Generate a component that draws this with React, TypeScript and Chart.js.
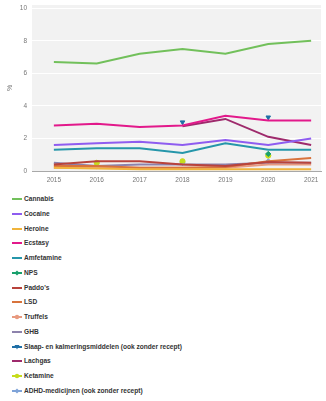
import React, { useEffect, useRef } from "react";
import { Chart, registerables } from "chart.js";
Chart.register(...registerables);

const years = [2015, 2016, 2017, 2018, 2019, 2020, 2021];
const yTicks = [0, 2, 4, 6, 8, 10];

const cannabis = [6.7, 6.6, 7.2, 7.5, 7.2, 7.8, 8.0];
const cocaine = [1.6, 1.7, 1.8, 1.6, 1.9, 1.6, 2.0];
const heroine = [0.2, 0.15, 0.1, 0.1, 0.1, 0.1, 0.1];
const ecstasy = [2.8, 2.9, 2.7, 2.8, 3.4, 3.1, 3.1];
const amfetamine = [1.3, 1.4, 1.4, 1.1, 1.7, 1.3, 1.3];
const nps = [null, null, null, null, null, 1.05, null];
const paddos = [0.4, 0.6, 0.6, 0.4, 0.3, 0.55, 0.5];
const lsd = [0.3, 0.3, 0.2, 0.2, 0.25, 0.6, 0.8];
const truffels = [0.2, 0.2, 0.2, 0.2, 0.2, 0.4, 0.4];
const ghb = [0.5, 0.3, 0.4, 0.4, 0.4, 0.5, 0.5];
const slaap = [null, null, null, 3.0, null, 3.3, null];
const lachgas = [null, null, null, 2.75, 3.2, 2.1, 1.6];
const ketamine = [null, 0.5, null, 0.6, null, 0.95, null];
const adhd = [null, 0.3, null, 0.5, null, 0.6, null];

type S = { label: string; values: (number | null)[]; color: string; marker?: string };

const series: S[] = [
  { label: "Cannabis", values: cannabis, color: "#72c05b" },
  { label: "Cocaine", values: cocaine, color: "#8e5cf0" },
  { label: "Heroine", values: heroine, color: "#f0b43c" },
  { label: "Ecstasy", values: ecstasy, color: "#e2198b" },
  { label: "Amfetamine", values: amfetamine, color: "#2596aa" },
  { label: "NPS", values: nps, color: "#18a06c", marker: "rectRot" },
  { label: "Paddo's", values: paddos, color: "#b8433c" },
  { label: "LSD", values: lsd, color: "#d8733c" },
  { label: "Truffels", values: truffels, color: "#e89a80", marker: "circle" },
  { label: "GHB", values: ghb, color: "#8d82ac" },
  { label: "Slaap- en kalmeringsmiddelen (ook zonder recept)", values: slaap, color: "#1f6fa6", marker: "triangle" },
  { label: "Lachgas", values: lachgas, color: "#9e2a6c" },
  { label: "Ketamine", values: ketamine, color: "#c6dc1c", marker: "circle" },
  { label: "ADHD-medicijnen (ook zonder recept)", values: adhd, color: "#7fa3d8", marker: "rectRot" },
];

const bgPlugin = {
  id: "plotBg",
  beforeDraw(chart: any) {
    const { ctx, chartArea } = chart;
    ctx.save();
    ctx.fillStyle = "#f2f2f2";
    ctx.fillRect(chartArea.left, chartArea.top, chartArea.right - chartArea.left, chartArea.bottom - chartArea.top);
    ctx.restore();
  },
};

function Swatch({ s }: { s: S }) {
  let m: any = null;
  if (s.marker === "circle") m = <circle cx={5} cy={3} r={2.2} fill={s.color} />;
  else if (s.marker === "rectRot") m = <polygon points="5,0.5 7.5,3 5,5.5 2.5,3" fill={s.color} />;
  else if (s.marker === "triangle") m = <polygon points="2.5,1 7.5,1 5,5.5" fill={s.color} />;
  return (
    <svg width={10} height={6} style={{ position: "absolute", left: 12, top: 4 }}>
      <line x1={0} y1={3} x2={10} y2={3} stroke={s.color} strokeWidth={2} />
      {m}
    </svg>
  );
}

export default function App() {
  const ref = useRef<HTMLCanvasElement>(null);
  useEffect(() => {
    const datasets = series.map((s) => {
      const pts = !!s.marker && s.label !== "Truffels";
      return {
        label: s.label,
        data: years.map((y, i) => ({ x: y, y: s.values[i] })),
        borderColor: s.color,
        backgroundColor: s.color,
        borderWidth: 2,
        pointRadius: pts ? 2.6 : 0,
        pointBorderWidth: 1,
        pointStyle: s.marker === "triangle" ? "triangle" : s.marker || "circle",
        rotation: s.marker === "triangle" ? 180 : 0,
        showLine: !pts,
        spanGaps: false,
        tension: 0,
      };
    });
    const chart = new Chart(ref.current!, {
      type: "line",
      data: { datasets },
      plugins: [bgPlugin],
      options: {
        animation: false,
        responsive: false,
        layout: { padding: { top: 3, right: 4, left: 6, bottom: 0 } },
        plugins: { legend: { display: false }, tooltip: { enabled: false } },
        scales: {
          x: {
            type: "linear",
            min: 2014.49,
            max: 2021.23,
            afterBuildTicks: (sc: any) => { sc.ticks = years.map((v) => ({ value: v })); },
            afterFit: (sc: any) => { sc.height = 19; sc.paddingLeft = 0; sc.paddingRight = 0; },
            grid: { display: false, drawTicks: false },
            border: { display: true, color: "#a8a8a8", width: 1 },
            ticks: { color: "#777", font: { family: "Liberation Sans", size: 6.5 }, padding: 5, callback: (v: any) => String(v), maxRotation: 0 },
          },
          y: {
            min: 0,
            max: 10.2,
            afterBuildTicks: (sc: any) => { sc.ticks = yTicks.map((v) => ({ value: v })); },
            afterFit: (sc: any) => { sc.width = 26; sc.paddingTop = 0; sc.paddingBottom = 0; },
            grid: { color: "#ffffff", lineWidth: 1, drawTicks: false },
            border: { display: false },
            title: { display: true, text: "%", color: "#777", font: { family: "Liberation Sans", size: 7 }, padding: { top: 0, bottom: 4 } },
            ticks: { color: "#777", font: { family: "Liberation Sans", size: 6.5 }, padding: 5 },
          },
        },
      },
    } as any);
    return () => chart.destroy();
  }, []);

  return (
    <div style={{ position: "absolute", left: 0, top: 0, width: 326, height: 401, background: "#fff" }}>
      <canvas ref={ref} width={326} height={190} style={{ display: "block" }} />
      <div style={{ position: "absolute", left: 0, top: 190, width: 326 }}>
        {series.map((s, i) => (
          <div
            key={s.label}
            style={{
              position: "absolute",
              left: 0,
              top: 2 + i * 14.75,
              height: 14,
              width: 326,
              fontFamily: "Liberation Sans",
              fontWeight: "bold",
              fontSize: 6.6,
              lineHeight: "14px",
              color: "#333",
            }}
          >
            <Swatch s={s} />
            <span style={{ position: "absolute", left: 24, top: 0, whiteSpace: "nowrap" }}>{s.label}</span>
          </div>
        ))}
      </div>
    </div>
  );
}
